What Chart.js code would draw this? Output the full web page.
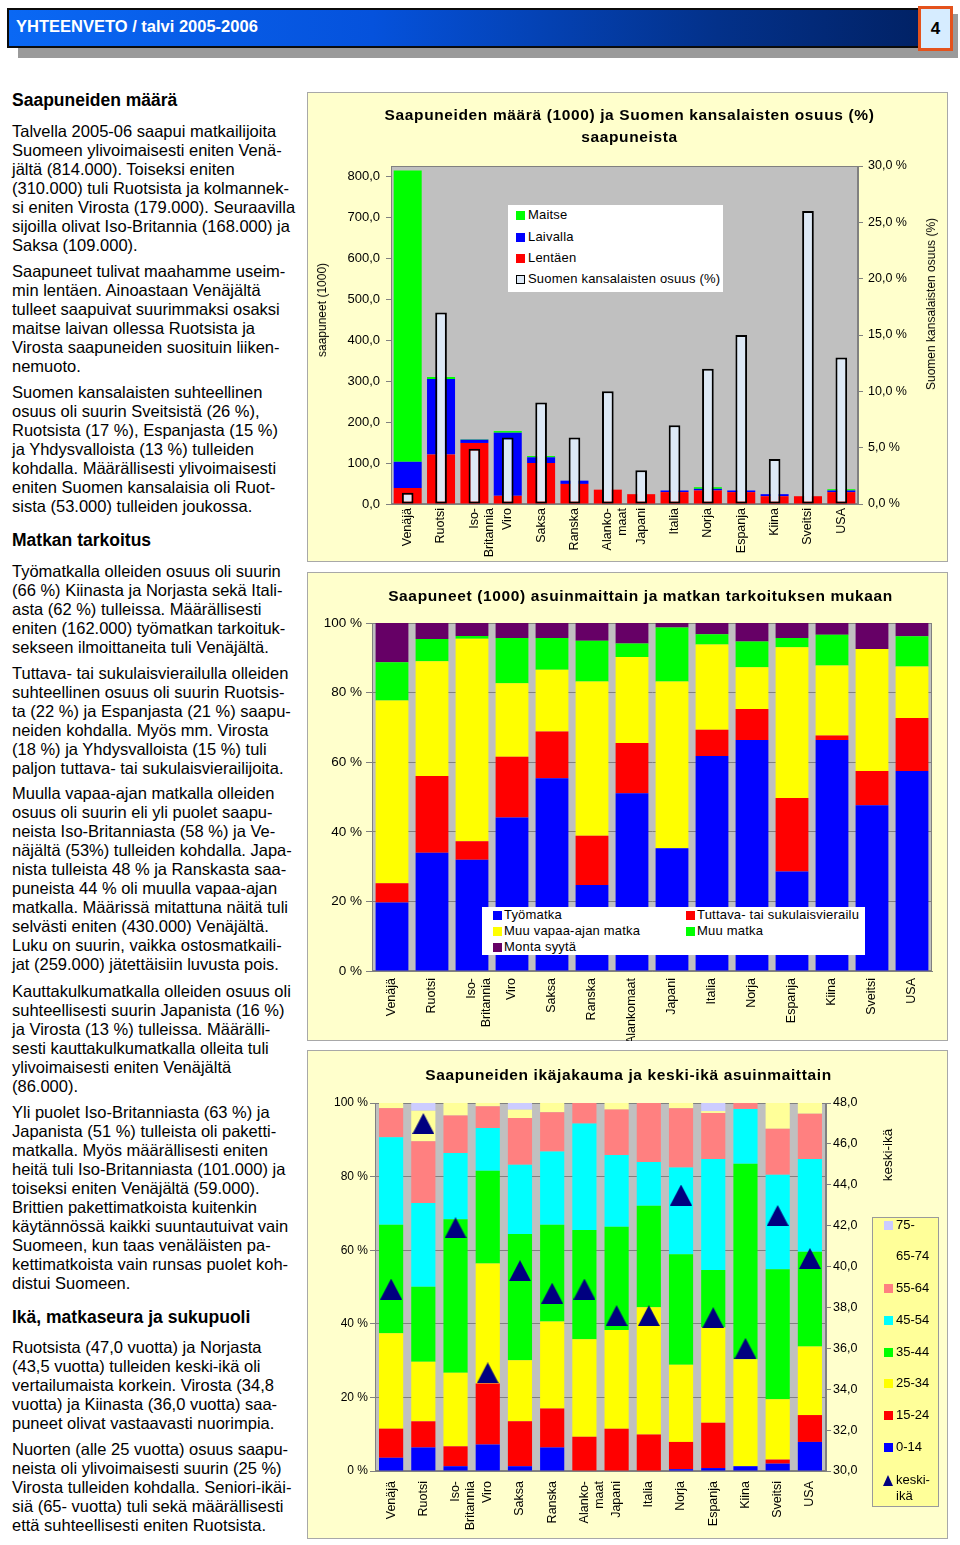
<!DOCTYPE html>
<html lang="fi">
<head>
<meta charset="utf-8">
<title>YHTEENVETO / talvi 2005-2006</title>
<script src="https://cdn.jsdelivr.net/npm/chart.js@4.4.1/dist/chart.umd.min.js"></script>
<style>
  html, body { margin: 0; padding: 0; background: #fff; }
  body { position: relative; width: 960px; height: 1545px; overflow: hidden; font-family: "Liberation Sans", Arial, sans-serif; color: #000; }
  .a { position: absolute; }
  .hd { position: absolute; left: 12px; font-size: 17.5px; font-weight: bold; line-height: 20px; white-space: nowrap; }
  .p { position: absolute; left: 12px; font-size: 16.5px; line-height: 19.1px; white-space: nowrap; }
  .panel { position: absolute; left: 307px; width: 641px; background: #FFFFCC; border: 1px solid #A8A8A8; box-sizing: border-box; }
  .wrap { position: absolute; left: 307px; width: 641px; }
  .ctitle { position: absolute; font-size: 15.5px; font-weight: bold; letter-spacing: 0.63px; text-align: center; line-height: 22px; white-space: nowrap; }
  .rot { position: absolute; white-space: nowrap; transform: translate(-50%, -50%) rotate(-90deg); font-size: 12px; }
  .lt { position: absolute; white-space: nowrap; font-size: 13px; line-height: 16px; }
  .sw { position: absolute; width: 9px; height: 9px; box-sizing: border-box; }
</style>
</head>
<body>

<!-- header -->
<div class="a" style="left:18px;top:14px;width:940px;height:44px;background:#9a9a9a"></div>
<div class="a" style="left:7px;top:8px;width:913px;height:40px;box-sizing:border-box;border:2px solid #0b0b0b;background:linear-gradient(90deg,#0a68f4 0%,#0552dc 40%,#03318a 78%,#012266 100%)"></div>
<div class="a" style="left:16px;top:16px;font-size:16.5px;font-weight:bold;color:#fff;line-height:20px;white-space:nowrap">YHTEENVETO / talvi 2005-2006</div>
<div class="a" style="left:918px;top:6px;width:35px;height:45px;box-sizing:border-box;border:3px solid #e4521c;background:#d6ecff;font-weight:bold;font-size:17px;text-align:center;line-height:39px">4</div>

<!-- left column text -->
<div class="hd" style="top:90px">Saapuneiden määrä</div>
<div class="p" style="top:121.5px">Talvella 2005-06 saapui matkailijoita<br>Suomeen ylivoimaisesti eniten Venä-<br>jältä (814.000). Toiseksi eniten<br>(310.000) tuli Ruotsista ja kolmannek-<br>si eniten Virosta (179.000). Seuraavilla<br>sijoilla olivat Iso-Britannia (168.000) ja<br>Saksa (109.000).</div>
<div class="p" style="top:261.5px">Saapuneet tulivat maahamme useim-<br>min lentäen. Ainoastaan Venäjältä<br>tulleet saapuivat suurimmaksi osaksi<br>maitse laivan ollessa Ruotsista ja<br>Virosta saapuneiden suosituin liiken-<br>nemuoto.</div>
<div class="p" style="top:382.5px">Suomen kansalaisten suhteellinen<br>osuus oli suurin Sveitsistä (26 %),<br>Ruotsista (17 %), Espanjasta (15 %)<br>ja Yhdysvalloista (13 %) tulleiden<br>kohdalla. Määrällisesti ylivoimaisesti<br>eniten Suomen kansalaisia oli Ruot-<br>sista (53.000) tulleiden joukossa.</div>
<div class="hd" style="top:530px">Matkan tarkoitus</div>
<div class="p" style="top:561.5px">Työmatkalla olleiden osuus oli suurin<br>(66 %) Kiinasta ja Norjasta sekä Itali-<br>asta (62 %) tulleissa. Määrällisesti<br>eniten (162.000) työmatkan tarkoituk-<br>sekseen ilmoittaneita tuli Venäjältä.</div>
<div class="p" style="top:663.5px">Tuttava- tai sukulaisvierailulla olleiden<br>suhteellinen osuus oli suurin Ruotsis-<br>ta (22 %) ja Espanjasta (21 %) saapu-<br>neiden kohdalla. Myös mm. Virosta<br>(18 %) ja Yhdysvalloista (15 %) tuli<br>paljon tuttava- tai sukulaisvierailijoita.</div>
<div class="p" style="top:783.5px">Muulla vapaa-ajan matkalla olleiden<br>osuus oli suurin eli yli puolet saapu-<br>neista Iso-Britanniasta (58 %) ja Ve-<br>näjältä (53%) tulleiden kohdalla. Japa-<br>nista tulleista 48 % ja Ranskasta saa-<br>puneista 44 % oli muulla vapaa-ajan<br>matkalla. Määrissä mitattuna näitä tuli<br>selvästi eniten (430.000) Venäjältä.<br>Luku on suurin, vaikka ostosmatkaili-<br>jat (259.000) jätettäisiin luvusta pois.</div>
<div class="p" style="top:981.5px">Kauttakulkumatkalla olleiden osuus oli<br>suhteellisesti suurin Japanista (16 %)<br>ja Virosta (13 %) tulleissa. Määrälli-<br>sesti kauttakulkumatkalla olleita tuli<br>ylivoimaisesti eniten Venäjältä<br>(86.000).</div>
<div class="p" style="top:1102.5px">Yli puolet Iso-Britanniasta (63 %) ja<br>Japanista (51 %) tulleista oli paketti-<br>matkalla. Myös määrällisesti eniten<br>heitä tuli Iso-Britanniasta (101.000) ja<br>toiseksi eniten Venäjältä (59.000).<br>Brittien pakettimatkoista kuitenkin<br>käytännössä kaikki suuntautuivat vain<br>Suomeen, kun taas venäläisten pa-<br>kettimatkoista vain runsas puolet koh-<br>distui Suomeen.</div>
<div class="hd" style="top:1307px">Ikä, matkaseura ja sukupuoli</div>
<div class="p" style="top:1337.5px">Ruotsista (47,0 vuotta) ja Norjasta<br>(43,5 vuotta) tulleiden keski-ikä oli<br>vertailumaista korkein. Virosta (34,8<br>vuotta) ja Kiinasta (36,0 vuotta) saa-<br>puneet olivat vastaavasti nuorimpia.</div>
<div class="p" style="top:1439.5px">Nuorten (alle 25 vuotta) osuus saapu-<br>neista oli ylivoimaisesti suurin (25 %)<br>Virosta tulleiden kohdalla. Seniori-ikäi-<br>siä (65- vuotta) tuli sekä määrällisesti<br>että suhteellisesti eniten Ruotsista.</div>

<!-- chart panels -->
<div class="panel" style="top:92px;height:470px"></div>
<div class="panel" style="top:572px;height:469px"></div>
<div class="panel" style="top:1050px;height:489px"></div>

<div class="wrap" style="top:92px;height:470px"><canvas id="c1"></canvas></div>
<div class="wrap" style="top:572px;height:469px"><canvas id="c2"></canvas></div>
<div class="wrap" style="top:1050px;height:489px"><canvas id="c3"></canvas></div>

<div class="ctitle" style="left:309px;width:641px;top:104px">Saapuneiden määrä (1000) ja Suomen kansalaisten osuus (%)<br>saapuneista</div>
<div class="ctitle" style="left:320px;width:641px;top:585px">Saapuneet (1000) asuinmaittain ja matkan tarkoituksen mukaan</div>
<div class="ctitle" style="left:308px;width:641px;top:1064px">Saapuneiden ikäjakauma ja keski-ikä asuinmaittain</div>

<div class="rot" style="left:322px;top:310px">saapuneet (1000)</div>
<div class="rot" style="left:931px;top:304px">Suomen kansalaisten osuus (%)</div>
<div class="rot" style="left:887px;top:1155px;font-size:13.5px">keski-ikä</div>

<div class="a" style="left:508px;top:205px;width:215px;height:87px;background:#fff"></div>
<div class="a" style="left:482px;top:907px;width:383px;height:48px;background:#fff"></div>
<div class="a" style="left:872px;top:1217px;width:67px;height:290px;background:#FFFF99;border:1px solid #9a9a9a;box-sizing:border-box"></div>
<div id="legendat"></div>

<script>
// ─── DATA ─────────────────────────────────
const maatKaavio1 = ['Venäjä', 'Ruotsi', ['Iso-', 'Britannia'], 'Viro', 'Saksa', 'Ranska', ['Alanko-', 'maat'], 'Japani', 'Italia', 'Norja', 'Espanja', 'Kiina', 'Sveitsi', 'USA'];
const maatKaavio2 = ['Venäjä', 'Ruotsi', ['Iso-', 'Britannia'], 'Viro', 'Saksa', 'Ranska', 'Alankomaat', 'Japani', 'Italia', 'Norja', 'Espanja', 'Kiina', 'Sveitsi', 'USA'];

// saapuneet (1000) kulkutavan mukaan + Suomen kansalaisten osuus (%)
const lentaen  = [39, 121, 149, 20, 100, 49, 35, 24, 29, 33, 29, 19, 19, 29];
const laivalla = [64, 184, 8, 154, 14, 8, 0, 0, 4, 4, 4, 5, 0, 4];
const maitse   = [711, 5, 1, 4, 3, 0, 0, 0, 0, 4, 0, 0, 0, 3];
const suomalaistenOsuus = [1.0, 17.0, 4.9, 5.9, 9.0, 5.9, 10.0, 3.0, 7.0, 12.0, 15.0, 4.0, 26.0, 13.0];

// matkan tarkoitus (%)
const tyomatka   = [19.7, 34, 32, 44.1, 55.4, 24.7, 51.1, 35.3, 61.8, 66.4, 28.6, 66.4, 47.6, 57.5];
const vierailu   = [5.5, 22, 5.3, 17.5, 13.4, 14.2, 14.4, 0, 7.5, 8.9, 21.1, 1.3, 9.9, 15.2];
const vapaaAika  = [52.5, 33, 58.2, 21.1, 17.8, 44.3, 24.7, 47.9, 24.5, 12.0, 43.3, 20.1, 35.0, 14.8];
const muuMatka   = [11.0, 6.4, 0.8, 13.0, 9.1, 11.7, 3.9, 15.5, 3.0, 7.4, 2.7, 8.8, 0, 8.7];
const montaSyyta = [11.3, 4.6, 3.7, 4.3, 4.3, 5.1, 5.9, 1.3, 3.2, 5.3, 4.3, 3.4, 7.5, 3.8];

// ikäjakauma (%) ja keski-ikä (v)
const ika0_14  = [3.6, 6.4, 1.3, 7.2, 1.3, 6.4, 0, 0, 0, 0.5, 0.8, 1.3, 2.0, 7.9];
const ika15_24 = [7.9, 7.1, 5.4, 16.6, 12.2, 10.6, 9.3, 11.5, 9.9, 7.4, 12.3, 0, 1.1, 7.3];
const ika25_34 = [25.9, 16.2, 20.0, 32.6, 16.6, 23.6, 26.5, 26.8, 34.6, 21.0, 25.9, 29.1, 16.4, 18.6];
const ika35_44 = [29.5, 20.4, 41.7, 25.2, 34.3, 26.3, 29.7, 28.1, 27.6, 30.0, 15.6, 53.1, 35.3, 25.8];
const ika45_54 = [23.8, 22.7, 18.0, 11.6, 18.8, 19.9, 28.9, 19.5, 11.9, 23.6, 30.2, 14.9, 25.7, 25.2];
const ika55_64 = [7.9, 16.8, 10.2, 5.9, 12.7, 10.7, 5.6, 12.3, 16.0, 16.1, 12.5, 1.6, 12.5, 12.3];
const ika65_74 = [1.4, 8.3, 3.4, 0.9, 2.3, 2.5, 0, 1.8, 0, 1.4, 0.5, 0, 7.0, 2.9];
const ika75    = [0, 2.1, 0, 0, 1.8, 0, 0, 0, 0, 0, 2.2, 0, 0, 0];
const keskiIka = [38.9, 47.0, 41.9, 34.8, 39.8, 38.7, 38.9, 37.6, 37.6, 43.5, 37.5, 36.0, 42.5, 40.4];

// ─── COMMON ───────────────────────────────
Chart.defaults.font.family = '"Liberation Sans", Arial, sans-serif';
Chart.defaults.color = '#000';

const harmaa = '#808080';
const pilkku = v => v.toFixed(1).replace('.', ',');

// grey plot area + border
const kuvaAla = {
  id: 'kuvaAla',
  beforeDraw(chart) {
    const { ctx, chartArea: a } = chart;
    ctx.save();
    ctx.fillStyle = '#C0C0C0';
    ctx.fillRect(a.left, a.top, a.width, a.height);
    ctx.restore();
  },
  beforeDatasetsDraw(chart) {
    const { ctx, chartArea: a } = chart;
    ctx.save();
    ctx.strokeStyle = harmaa;
    ctx.lineWidth = 1;
    ctx.strokeRect(a.left + 0.5, a.top + 0.5, a.width - 1, a.height - 1);
    ctx.restore();
  }
};

function xAkseli(pad, korkeus) {
  return {
    grid: { display: false, drawTicks: false },
    border: { color: harmaa },
    ticks: { font: { size: 12.5 }, minRotation: 90, maxRotation: 90, autoSkip: false, padding: pad },
    afterFit: s => { s.height = korkeus; }
  };
}

function kolmio(w, h) {
  const c = document.createElement('canvas');
  c.width = w; c.height = h;
  const g = c.getContext('2d');
  g.fillStyle = '#000080';
  g.beginPath(); g.moveTo(w / 2, 0); g.lineTo(w, h); g.lineTo(0, h); g.closePath(); g.fill();
  return c;
}

// ─── CHART 1: SAAPUNEIDEN MÄÄRÄ ───────────
const pino1 = (label, data, col) => ({ label, data, backgroundColor: col, stack: 's', order: 1, barPercentage: 0.84, categoryPercentage: 1 });
new Chart(document.getElementById('c1'), {
  type: 'bar',
  data: {
    labels: maatKaavio1,
    datasets: [
      pino1('Lentäen', lentaen, '#FF0000'),
      pino1('Laivalla', laivalla, '#0000FF'),
      pino1('Maitse', maitse, '#00FF00'),
      {
        label: 'Suomen kansalaisten osuus (%)', data: suomalaistenOsuus, yAxisID: 'y2',
        grouped: false, order: 0, barPercentage: 0.35, categoryPercentage: 1,
        backgroundColor: '#DDE9F6', borderColor: '#000', borderWidth: 2, borderSkipped: false
      }
    ]
  },
  options: {
    animation: false, responsive: true, maintainAspectRatio: false,
    layout: { padding: { top: 74 } },
    plugins: { legend: { display: false }, tooltip: { enabled: false } },
    scales: {
      x: xAkseli(4, 58),
      y: {
        stacked: true, min: 0, max: 825,
        ticks: { stepSize: 100, includeBounds: false, callback: pilkku, font: { size: 13 }, padding: 6 },
        grid: { drawOnChartArea: false, tickLength: 5, color: harmaa },
        border: { color: harmaa },
        afterFit: s => { s.width = 84; }
      },
      y2: {
        position: 'right', min: 0, max: 30,
        ticks: { stepSize: 5, callback: v => pilkku(v) + ' %', font: { size: 12.5 }, padding: 5 },
        grid: { drawOnChartArea: false, tickLength: 5, color: harmaa },
        border: { color: harmaa },
        afterFit: s => { s.width = 90; }
      }
    }
  },
  plugins: [kuvaAla]
});

// ─── CHART 2: MATKAN TARKOITUS ────────────
const pino2 = (label, data, col) => ({ label, data, backgroundColor: col, stack: 's', barPercentage: 0.82, categoryPercentage: 1 });
new Chart(document.getElementById('c2'), {
  type: 'bar',
  data: {
    labels: maatKaavio2,
    datasets: [
      pino2('Työmatka', tyomatka, '#0000FF'),
      pino2('Tuttava- tai sukulaisvierailu', vierailu, '#FF0000'),
      pino2('Muu vapaa-ajan matka', vapaaAika, '#FFFF00'),
      pino2('Muu matka', muuMatka, '#00FF00'),
      pino2('Monta syytä', montaSyyta, '#660066')
    ]
  },
  options: {
    animation: false, responsive: true, maintainAspectRatio: false,
    layout: { padding: { top: 51, right: 16 } },
    plugins: { legend: { display: false }, tooltip: { enabled: false } },
    scales: {
      x: xAkseli(7, 70),
      y: {
        stacked: true, min: 0, max: 100,
        ticks: { stepSize: 20, callback: v => v + ' %', font: { size: 13.5 }, padding: 4 },
        grid: { color: harmaa, tickLength: 6 },
        border: { color: harmaa },
        afterFit: s => { s.width = 65; }
      }
    }
  },
  plugins: [kuvaAla]
});

// ─── CHART 3: IKÄJAKAUMA ──────────────────
const pino3 = (label, data, col) => ({ label, data, backgroundColor: col, stack: 's', order: 1, barPercentage: 0.75, categoryPercentage: 1 });
new Chart(document.getElementById('c3'), {
  type: 'bar',
  data: {
    labels: maatKaavio1,
    datasets: [
      pino3('0-14', ika0_14, '#0000FF'),
      pino3('15-24', ika15_24, '#FF0000'),
      pino3('25-34', ika25_34, '#FFFF00'),
      pino3('35-44', ika35_44, '#00FF00'),
      pino3('45-54', ika45_54, '#00FFFF'),
      pino3('55-64', ika55_64, '#FF8080'),
      pino3('65-74', ika65_74, '#FFFF99'),
      pino3('75-', ika75, '#CCCCFF'),
      {
        type: 'line', label: 'keski-ikä', data: keskiIka, yAxisID: 'y2', order: 0,
        showLine: false, pointStyle: kolmio(22, 21), pointRadius: 11
      }
    ]
  },
  options: {
    animation: false, responsive: true, maintainAspectRatio: false,
    layout: { padding: { top: 53 } },
    plugins: { legend: { display: false }, tooltip: { enabled: false } },
    scales: {
      x: xAkseli(10, 68),
      y: {
        stacked: true, min: 0, max: 100,
        ticks: { stepSize: 20, callback: v => v + ' %', font: { size: 12 }, padding: 2 },
        grid: { color: harmaa, tickLength: 5 },
        border: { color: harmaa },
        afterFit: s => { s.width = 68; }
      },
      y2: {
        position: 'right', min: 30, max: 48,
        ticks: { stepSize: 2, callback: pilkku, font: { size: 12.5 }, padding: 2 },
        grid: { drawOnChartArea: false, tickLength: 5, color: harmaa },
        border: { color: harmaa },
        afterFit: s => { s.width = 122; }
      }
    }
  },
  plugins: [kuvaAla]
});

// ─── LEGENDS (inside plot areas) ──────────
const leg = document.getElementById('legendat');
function rivi(swX, y, col, text, textX, extra) {
  const sw = document.createElement('div');
  sw.className = 'sw';
  sw.style.left = swX + 'px';
  sw.style.top = (y - 4.5) + 'px';
  sw.style.background = col;
  if (extra) Object.assign(sw.style, extra);
  leg.appendChild(sw);
  const t = document.createElement('div');
  t.className = 'lt';
  t.style.left = textX + 'px';
  t.style.top = (y - 8) + 'px';
  t.textContent = text;
  leg.appendChild(t);
  return t;
}
// chart 1
[['Maitse', '#00FF00', 215], ['Laivalla', '#0000FF', 237], ['Lentäen', '#FF0000', 258]]
  .forEach(([t, c, y]) => rivi(516, y, c, t, 528).style.letterSpacing = '0.2px');
rivi(516, 279, '#DDE9F6', 'Suomen kansalaisten osuus (%)', 528, { border: '1.5px solid #000' }).style.letterSpacing = '0.2px';
// chart 2
[['Työmatka', '#0000FF', 493, 504, 915], ['Tuttava- tai sukulaisvierailu', '#FF0000', 686, 697, 915],
 ['Muu vapaa-ajan matka', '#FFFF00', 493, 504, 931], ['Muu matka', '#00FF00', 686, 697, 931],
 ['Monta syytä', '#660066', 493, 504, 947]]
  .forEach(([t, c, sx, tx, y]) => rivi(sx, y, c, t, tx).style.letterSpacing = '0.2px');
// chart 3
[['75-', '#CCCCFF', 1225], ['65-74', '#FFFF99', 1256], ['55-64', '#FF8080', 1288], ['45-54', '#00FFFF', 1320],
 ['35-44', '#00FF00', 1352], ['25-34', '#FFFF00', 1383], ['15-24', '#FF0000', 1415], ['0-14', '#0000FF', 1447]]
  .forEach(([t, c, y]) => rivi(884, y, c, t, 896));
const tri = document.createElement('div');
tri.className = 'a';
Object.assign(tri.style, { left: '883px', top: '1475px', width: 0, height: 0, borderLeft: '5.5px solid transparent', borderRight: '5.5px solid transparent', borderBottom: '11px solid #000080' });
leg.appendChild(tri);
const kt = document.createElement('div');
kt.className = 'lt';
Object.assign(kt.style, { left: '896px', top: '1472px' });
kt.innerHTML = 'keski-<br>ikä';
leg.appendChild(kt);
</script>
</body>
</html>
